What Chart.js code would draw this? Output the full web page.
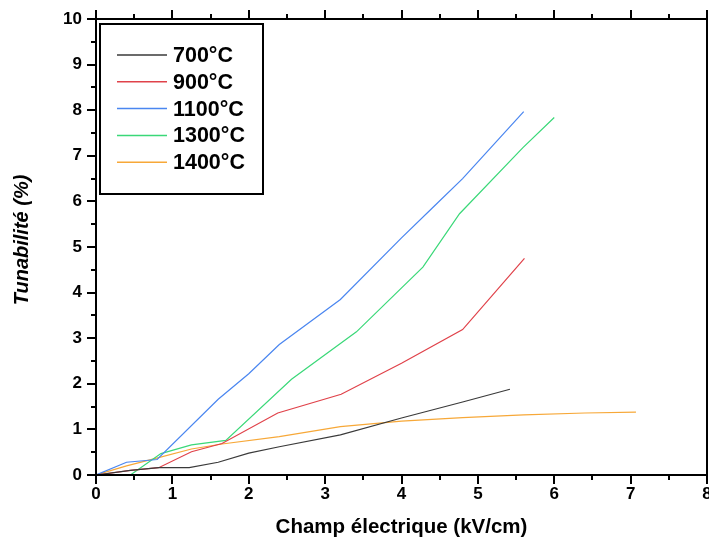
<!DOCTYPE html>
<html>
<head>
<meta charset="utf-8">
<script src="https://cdn.jsdelivr.net/npm/chart.js@4"></script>
<style>
  html, body { margin: 0; padding: 0; background: #fff; }
  #wrap { width: 709px; height: 545px; position: relative; }
</style>
</head>
<body>
<div id="wrap"><canvas id="c" width="709" height="545"></canvas></div>
<script>
// ---- Data ----
const seriesLabels = ['700°C', '900°C', '1100°C', '1300°C', '1400°C'];
const seriesColors = ['#3a3a3a', '#e0424a', '#4a86f0', '#3ad878', '#f7a838'];

const field700  = [0, 0.45, 0.82, 1.22, 1.6, 2.0, 2.4, 3.2, 4.0, 4.8, 5.42];
const tun700    = [0, 0.10, 0.16, 0.16, 0.28, 0.48, 0.62, 0.88, 1.25, 1.60, 1.88];

const field900  = [0, 0.45, 0.82, 1.25, 1.65, 2.38, 3.21, 4.0, 4.8, 5.61];
const tun900    = [0, 0.10, 0.16, 0.51, 0.69, 1.36, 1.77, 2.45, 3.19, 4.75];

const field1100 = [0, 0.4, 0.8, 1.6, 2.0, 2.4, 3.2, 4.0, 4.4, 4.8, 5.6];
const tun1100   = [0, 0.28, 0.34, 1.66, 2.22, 2.86, 3.85, 5.20, 5.85, 6.50, 7.97];

const field1300 = [0, 0.45, 0.85, 1.25, 1.7, 2.56, 3.41, 4.28, 4.76, 5.59, 6.0];
const tun1300   = [0, 0.0, 0.47, 0.66, 0.76, 2.10, 3.14, 4.56, 5.73, 7.18, 7.84];

const field1400 = [0, 0.4, 0.82, 1.25, 1.65, 2.4, 3.2, 4.0, 4.8, 5.6, 6.4, 7.07];
const tun1400   = [0, 0.20, 0.38, 0.57, 0.68, 0.84, 1.06, 1.18, 1.26, 1.32, 1.36, 1.38];

const xTitle = 'Champ électrique (kV/cm)';
const yTitle = 'Tunabilité (%)';

// ---- Build datasets ----
const fields = [field700, field900, field1100, field1300, field1400];
const tuns = [tun700, tun900, tun1100, tun1300, tun1400];
const datasets = seriesLabels.map((lab, i) => ({
  label: lab,
  data: fields[i].map((x, k) => ({x: x, y: tuns[i][k]})),
  borderColor: seriesColors[i],
  backgroundColor: seriesColors[i],
  borderWidth: 1.2,
  pointRadius: 0,
  showLine: true,
  tension: 0,
  fill: false
}));

const FONT = "'Liberation Sans', Arial, sans-serif";

// Frame, minor/major ticks, y title and legend box
const framePlugin = {
  id: 'frame',
  afterDraw(chart) {
    const {ctx, chartArea: a, scales} = chart;
    const xs = scales.x, ys = scales.y;
    ctx.save();
    ctx.strokeStyle = '#000';
    ctx.lineWidth = 2;
    ctx.strokeRect(a.left, a.top, a.right - a.left, a.bottom - a.top);
    ctx.beginPath();
    for (let v = 0; v <= 8.001; v += 0.5) {
      const px = Math.round(xs.getPixelForValue(v));
      const major = Math.abs(v - Math.round(v)) < 1e-6;
      const len = major ? 9 : 5;
      ctx.moveTo(px, a.bottom); ctx.lineTo(px, a.bottom + len);
      ctx.moveTo(px, a.top); ctx.lineTo(px, a.top - len);
    }
    for (let v = 0; v <= 10.001; v += 0.5) {
      const py = Math.round(ys.getPixelForValue(v));
      const major = Math.abs(v - Math.round(v)) < 1e-6;
      const len = major ? 9 : 5;
      ctx.moveTo(a.left, py); ctx.lineTo(a.left - len, py);
    }
    ctx.stroke();

    // Y axis title
    ctx.save();
    ctx.translate(22, 240);
    ctx.rotate(-Math.PI / 2);
    ctx.font = 'italic bold 20px ' + FONT;
    ctx.fillStyle = '#000';
    ctx.textAlign = 'center';
    ctx.textBaseline = 'middle';
    ctx.fillText(yTitle, 0, 0);
    ctx.restore();

    // Legend
    const bx = 100, by = 24, bw = 163, bh = 170;
    ctx.lineWidth = 2;
    ctx.strokeStyle = '#000';
    ctx.strokeRect(bx, by, bw, bh);
    ctx.font = 'bold 21.5px ' + FONT;
    ctx.textBaseline = 'middle';
    ctx.textAlign = 'left';
    chart.data.datasets.forEach((ds, i) => {
      const ry = by + 31 + i * 26.8;
      ctx.strokeStyle = ds.borderColor;
      ctx.lineWidth = 1.5;
      ctx.beginPath();
      ctx.moveTo(117, ry); ctx.lineTo(167, ry);
      ctx.stroke();
      ctx.fillStyle = '#000';
      ctx.fillText(ds.label, 173, ry + 1);
    });
    ctx.restore();
  }
};

new Chart(document.getElementById('c'), {
  type: 'scatter',
  data: { datasets },
  options: {
    responsive: false,
    animation: false,
    devicePixelRatio: 1,
    layout: { padding: { left: 0, right: 2, top: 19, bottom: 0 } },
    plugins: { legend: { display: false }, tooltip: { enabled: false } },
    scales: {
      x: {
        type: 'linear', min: 0, max: 8,
        afterFit(s) { s.height = 70; s.paddingLeft = 0; s.paddingRight = 0; },
        grid: { display: false, drawTicks: false },
        border: { display: false },
        ticks: { stepSize: 1, padding: 9, color: '#000', font: { family: FONT, size: 17, weight: 'bold' } },
        title: { display: true, text: xTitle, color: '#000', padding: { top: 0, bottom: 5 }, font: { family: FONT, size: 20.5, weight: 'bold' } }
      },
      y: {
        type: 'linear', min: 0, max: 10,
        afterFit(s) { s.width = 96; s.paddingTop = 0; s.paddingBottom = 0; },
        grid: { display: false, drawTicks: false },
        border: { display: false },
        ticks: { stepSize: 1, padding: 14, color: '#000', font: { family: FONT, size: 17, weight: 'bold' } },
        title: { display: false, text: yTitle }
      }
    }
  },
  plugins: [framePlugin]
});
</script>
</body>
</html>
